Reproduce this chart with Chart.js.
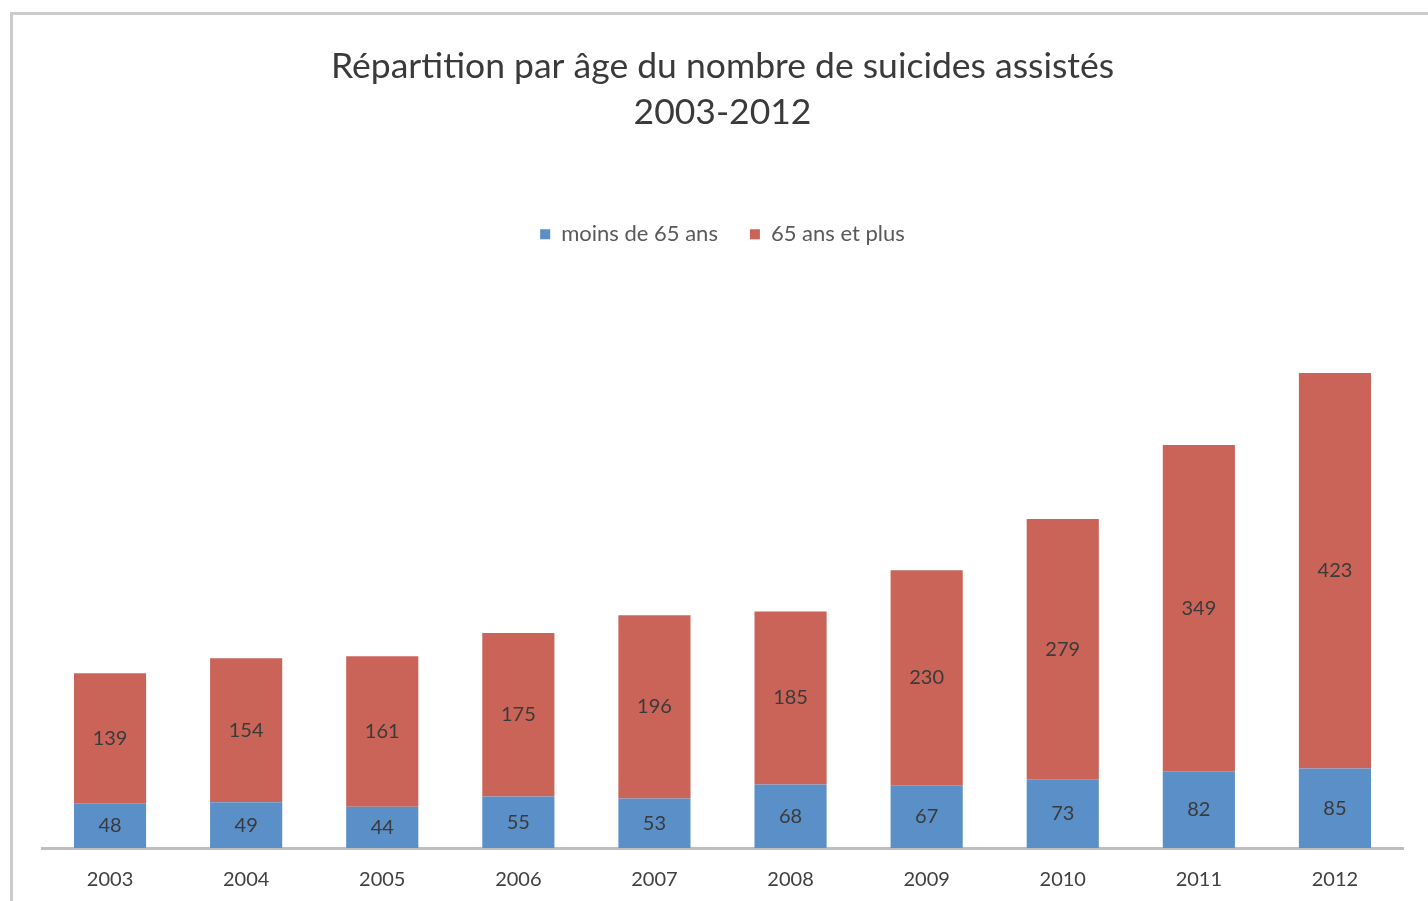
<!DOCTYPE html>
<html lang="fr">
<head>
    <meta charset="UTF-8">
    <title>Répartition par âge du nombre de suicides assistés</title>
    <script src="https://cdn.jsdelivr.net/npm/chart.js"></script>
    <style>
        body { margin: 0; background: #fff; }
        .wrap { position: relative; width: 1428px; height: 901px; overflow: hidden; }
        .frame { position: absolute; left: 10px; top: 12px; width: 1500px; height: 1000px;
                 border-left: 3px solid #cccccc; border-top: 3px solid #cccccc; }
        canvas { position: absolute; left: 0; top: 0; }
    </style>
</head>
<body>
<div class="wrap">
    <div class="frame"></div>
    <canvas id="chart" width="1428" height="901"></canvas>
</div>
<script>
    const years = ['2003', '2004', '2005', '2006', '2007', '2008', '2009', '2010', '2011', '2012'];
    const under65 = [48, 49, 44, 55, 53, 68, 67, 73, 82, 85];
    const over65 = [139, 154, 161, 175, 196, 185, 230, 279, 349, 423];
    const seriesNames = ['moins de 65 ans', '65 ans et plus'];

    const FONT = 'Lato, "DejaVu Sans", sans-serif';

    // values written in the middle of each bar piece
    const segLabels = {
        id: 'segLabels',
        afterDatasetsDraw(chart) {
            const ctx = chart.ctx;
            ctx.save();
            ctx.font = '20px ' + FONT;
            ctx.fillStyle = '#3a3a3a';
            ctx.textAlign = 'center';
            ctx.textBaseline = 'middle';
            chart.data.datasets.forEach((ds, i) => {
                chart.getDatasetMeta(i).data.forEach((bar, j) => {
                    const p = bar.getProps(['x', 'y', 'base'], true);
                    ctx.fillText(ds.data[j], p.x, (p.y + p.base) / 2);
                });
            });
            ctx.restore();
        }
    };

    new Chart(document.getElementById('chart'), {
        type: 'bar',
        data: {
            labels: years,
            datasets: [
                { label: seriesNames[0], data: under65, backgroundColor: '#5a8fc7' },
                { label: seriesNames[1], data: over65, backgroundColor: '#cb6458' }
            ]
        },
        options: {
            responsive: false,
            animation: false,
            layout: { padding: { left: 42, right: 25, top: 43, bottom: 0 } },
            datasets: { bar: { categoryPercentage: 1, barPercentage: 0.53 } },
            plugins: {
                title: {
                    display: true,
                    text: ['Répartition par âge du nombre de suicides assistés', '2003-2012'],
                    color: '#3a3a3a',
                    font: { family: FONT, size: 35.5, weight: 'normal', lineHeight: 1.3 },
                    padding: { top: 0, bottom: 56 }
                },
                legend: {
                    labels: {
                        color: '#595959',
                        font: { family: FONT, size: 22 },
                        boxWidth: 10,
                        boxHeight: 10,
                        padding: 32
                    }
                },
                tooltip: { enabled: false }
            },
            scales: {
                x: {
                    stacked: true,
                    grid: { display: false },
                    border: { color: '#bfbfbf', width: 3 },
                    ticks: { color: '#404040', font: { family: FONT, size: 20 }, padding: 12 },
                    afterFit(scale) { scale.height = 53; }
                },
                y: {
                    stacked: true,
                    display: false,
                    min: 0,
                    max: 634
                }
            }
        },
        plugins: [segLabels]
    });
</script>
</body>
</html>
